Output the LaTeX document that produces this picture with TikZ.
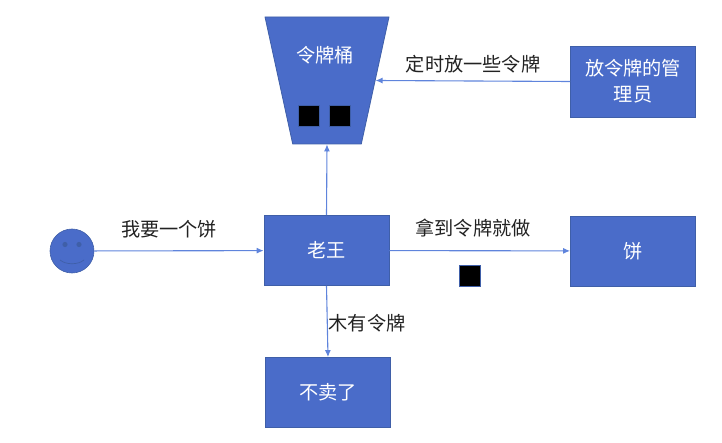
\documentclass[tikz,border=0pt]{standalone}
\usepackage{fontspec}
\setmainfont{Noto Sans CJK SC}
\usetikzlibrary{shapes.geometric,arrows.meta}
\definecolor{boxblue}{HTML}{4A6CC9}
\definecolor{edgeblue}{HTML}{3F5FA8}
\definecolor{linkblue}{HTML}{5F84DC}
\definecolor{labelgray}{HTML}{222222}
\tikzset{
  box/.style={draw=edgeblue,fill=boxblue,text=white,line width=0.8pt,minimum width=125pt,minimum height=70pt,inner sep=0pt,align=center,font=\fontsize{19.2}{26}\selectfont},
  token/.style={draw=edgeblue,fill=black,line width=0.6pt,minimum size=21pt,inner sep=0pt},
  link/.style={draw=linkblue,line width=1.1pt,-{Latex[length=7pt,width=6pt]}},
  lab/.style={text=labelgray,inner sep=0pt,font=\fontsize{19.2}{26}\selectfont}
}
\begin{document}
\begin{tikzpicture}[x=1pt,y=-1pt]
  \useasboundingbox (0,0) rectangle (722,443);
  % boxes
  \node[box] (wang) at (326.5,250.5) {老王};
  \node[box] (cake) at (633,251) {饼};
  \node[box] (nosale) at (328,392.5) {不卖了};
  \node[box,minimum height=71pt] (keeper) at (633,81.5) {放令牌的管\\理员};
  \node[trapezium,shape border rotate=180,trapezium angle=68,trapezium stretches=true,draw=edgeblue,fill=boxblue,line width=0.8pt,minimum width=124pt,minimum height=127pt,inner sep=2pt] (bucket) at (327,80.5) {};
  \node[text=white,inner sep=0pt,font=\fontsize{19.2}{26}\selectfont] (bucketname) at (325,55) {令牌桶};
  % tokens
  \foreach \n/\x/\y in {one/308.5/116,two/340/116,three/470/275.5}{
    \node[token] (\n) at (\x,\y) {};
  }
  % face
  \node[circle,draw=edgeblue,fill=boxblue,line width=0.6pt,minimum size=44pt,inner sep=0pt] (face) at (72,251) {};
  \fill[edgeblue] (65,244.5) circle (2.6);
  \fill[edgeblue] (79,244.5) circle (2.6);
  \draw[edgeblue,line width=0.7pt] (60,260) .. controls (66,265) and (78,265) .. (84,260);
  % links
  \draw[link] (face) -- (wang);
  \draw[link] (wang) -- (cake);
  \draw[link] (wang.north) -- (bucket.south);
  \draw[link] (keeper.west) -- (bucket.east);
  \draw[link] (wang.south) -- (nosale.north);
  % labels
  \node[lab] (ask) at (169,229) {我要一个饼};
  \node[lab] (got) at (473,228) {拿到令牌就做};
  \node[lab] (timer) at (473,64) {定时放一些令牌};
  \node[lab] (none) at (367,323) {木有令牌};
\end{tikzpicture}
\end{document}
